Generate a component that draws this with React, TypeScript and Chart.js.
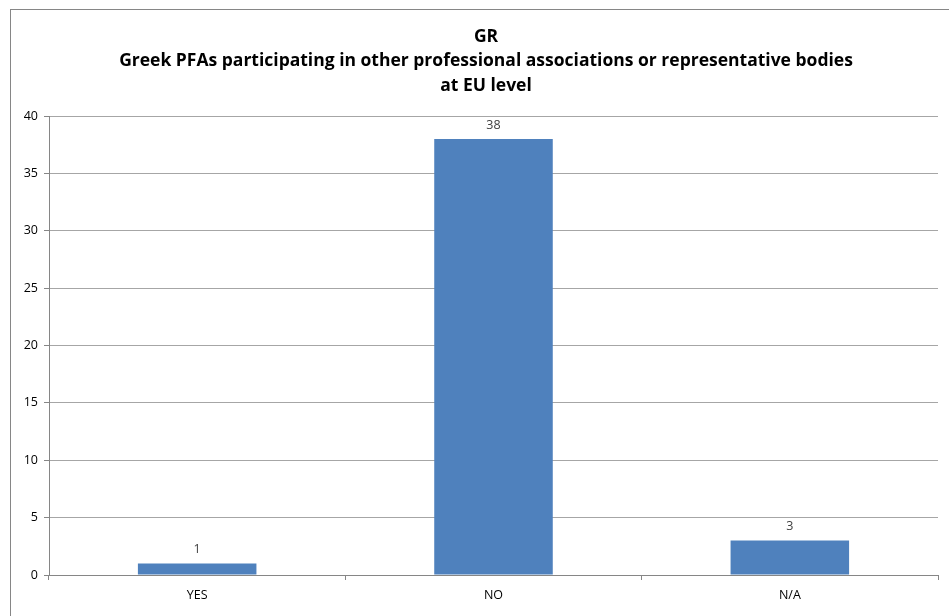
import React, { useEffect, useRef } from "react";
import { Chart, registerables } from "chart.js";

Chart.register(...registerables);

const titleLines = [
  "GR",
  "Greek PFAs participating in other professional associations or representative bodies",
  "at EU level",
];
const categories = ["YES", "NO", "N/A"];
const values = [1, 38, 3];
const yTicks = [0, 5, 10, 15, 20, 25, 30, 35, 40];

const FONT = "'Open Sans', 'Liberation Sans', sans-serif";

export default function App() {
  const ref = useRef<HTMLCanvasElement | null>(null);
  useEffect(() => {
    if (!ref.current) return;
    const framePlugin = {
      id: "frame",
      beforeDraw(chart: any) {
        const ctx = chart.ctx;
        ctx.save();
        ctx.fillStyle = "#ffffff";
        ctx.fillRect(0, 0, chart.width, chart.height);
        ctx.strokeStyle = "#868686";
        ctx.lineWidth = 1;
        ctx.strokeRect(10.5, 9.5, chart.width + 20, chart.height + 20);
        ctx.restore();
      },
      afterDraw(chart: any) {
        const ctx = chart.ctx;
        ctx.save();
        ctx.fillStyle = "#000000";
        ctx.textAlign = "center";
        ctx.textBaseline = "middle";
        ctx.font = `bold 17.5px ${FONT}`;
        const ys = [37, 61, 86];
        titleLines.forEach((t, i) => ctx.fillText(t, 486, ys[i]));
        // data labels
        const meta = chart.getDatasetMeta(0);
        ctx.font = `12.5px ${FONT}`;
        ctx.fillStyle = "#404040";
        meta.data.forEach((bar: any, i: number) => {
          ctx.fillText(String(values[i]), bar.x, bar.y - 14);
        });
        ctx.restore();
      },
    };
    const chart = new Chart(ref.current, {
      type: "bar",
      data: {
        labels: categories,
        datasets: [
          {
            data: values,
            backgroundColor: "#4F81BD",
            borderWidth: 0,
            categoryPercentage: 0.4,
            barPercentage: 1,
          },
        ],
      },
      options: {
        animation: false,
        responsive: false,
        maintainAspectRatio: false,
        layout: { padding: { left: 12, right: 11, top: 116, bottom: 0 } },
        plugins: {
          legend: { display: false },
          title: { display: false },
          tooltip: { enabled: false },
        },
        scales: {
          x: {
            grid: {
              offset: true,
              drawOnChartArea: false,
              drawTicks: true,
              tickLength: 5,
              color: "#868686",
            },
            border: { color: "#868686" },
            ticks: {
              color: "#000000",
              font: { family: FONT, size: 12.5 },
              padding: 8,
            },
            afterFit(scale: any) {
              scale.height = 41;
            },
          },
          y: {
            min: 0,
            max: 40,
            afterBuildTicks(scale: any) {
              scale.ticks = yTicks.map((v) => ({ value: v }));
            },
            grid: {
              color: "#A6A6A6",
              tickLength: 5,
              tickColor: "#868686",
            },
            border: { color: "#868686" },
            ticks: {
              color: "#000000",
              font: { family: FONT, size: 12.5 },
              padding: 6,
            },
            afterFit(scale: any) {
              scale.width = 37;
            },
          },
        },
      },
      plugins: [framePlugin],
    });
    return () => chart.destroy();
  }, []);
  return (
    <div style={{ position: "absolute", left: 0, top: 0, width: 949, height: 616 }}>
      <canvas ref={ref} width={949} height={616} style={{ display: "block" }} />
    </div>
  );
}
